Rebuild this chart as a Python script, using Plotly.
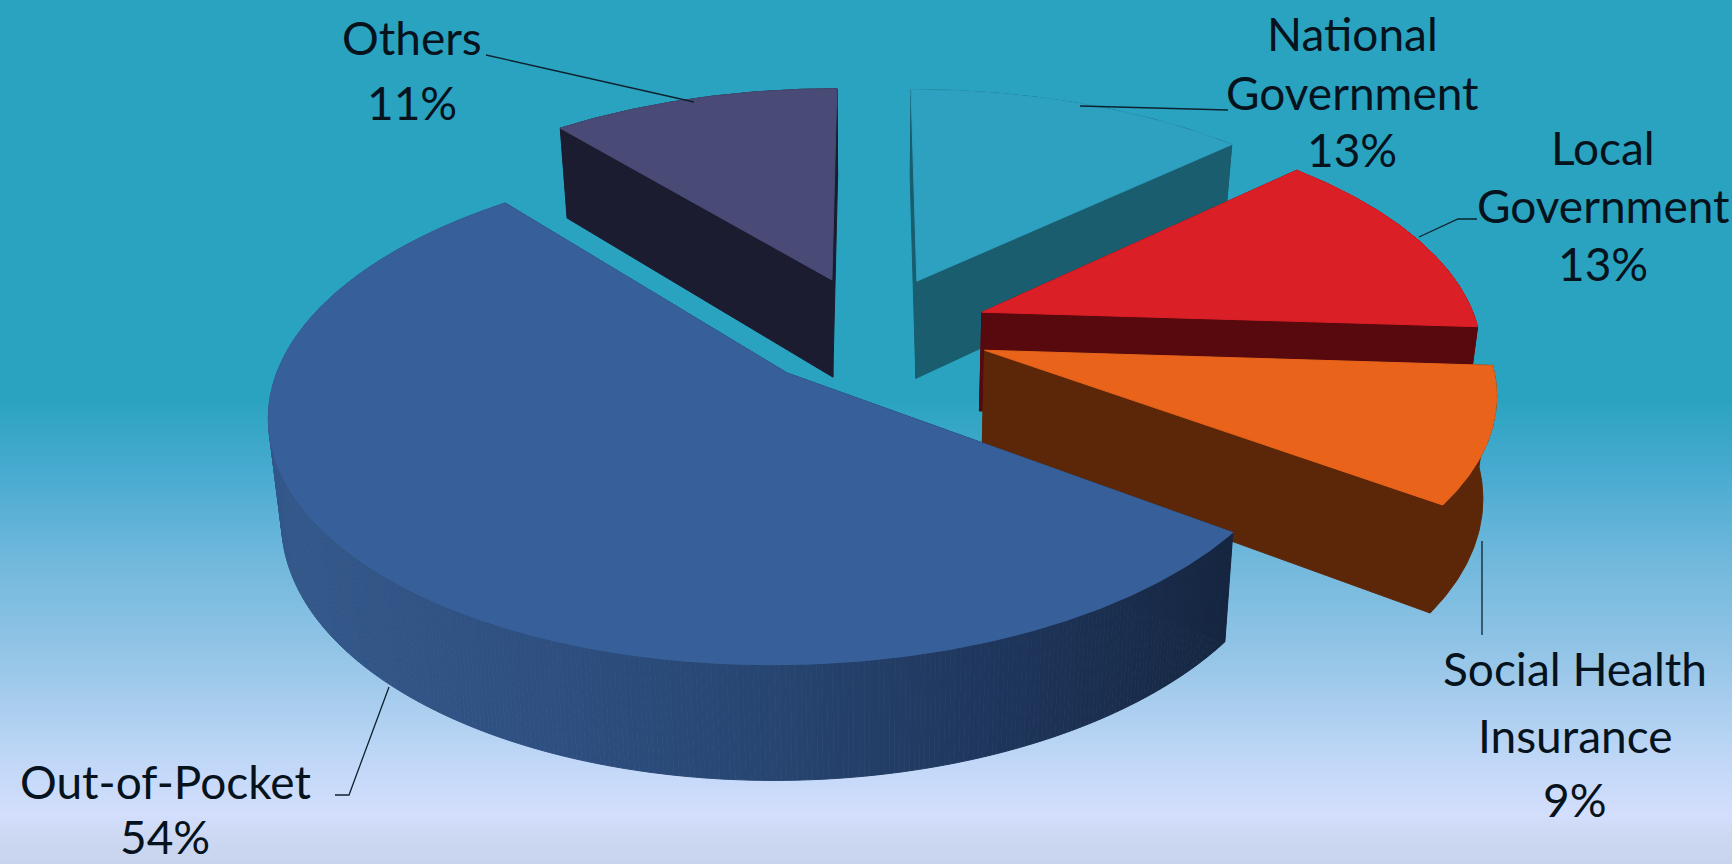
import numpy as np
import plotly.graph_objects as go

# Share of health spending by source, in percent
sources = ["Out-of-Pocket", "Others", "National Government", "Local Government", "Social Health Insurance"]
shares = [54, 11, 13, 13, 9]
label_lines = [["Out-of-Pocket"], ["Others"], ["National", "Government"], ["Local", "Government"], ["Social Health", "Insurance"]]

top_colors = ["#37609a", "#494a75", "#2ea0c0", "#da1f27", "#e9631b"]
wall_colors = ["#16263f", "#1b1c30", "#195d6f", "#58090e", "#5c2708"]

W, H = 1732, 864
FIRST_ANGLE = 36.0        # degrees, clockwise from the right, where the first slice starts
PULL = 0.24               # radial offset of every slice
CX, CY = 871.0, 331.0     # screen position of the pie centre
KX, KY = 497.0, 234.0     # horizontal and vertical scale of the disc
PERSP = 0.15              # perspective strength towards the viewer


def top_point(u, v):
    w = 1 - PERSP * v
    return CX + KX * u / w, CY + KY * v / w


def bottom_point(x, y):
    # Lower rim of the extruded disc for a point on the top face
    return CX + (x - CX) * 0.978, y + 90 + (y - 130) * 0.048


def slice_outline(start, end, pull):
    mid = np.radians((start + end) / 2)
    ox, oy = pull * np.cos(mid), pull * np.sin(mid)
    th = np.radians(np.linspace(start, end, max(int(end - start) * 2, 8)))
    rim = top_point(ox + np.cos(th), oy + np.sin(th))
    apex = top_point(ox, oy)
    return apex, rim


def polygon(fig, xs, ys, color):
    fig.add_trace(go.Scatter(x=list(xs), y=list(ys), mode="lines", fill="toself", fillcolor=color,
                             line=dict(color=color, width=1), hoverinfo="skip", showlegend=False))


def side_shade(x):
    # Lighting across the curved wall of the largest slice
    stops_x = [260, 560, 780, 1000, 1240]
    stops = np.array([[0x35, 0x59, 0x8b], [0x2e, 0x4f, 0x80], [0x27, 0x45, 0x70], [0x1f, 0x36, 0x5c], [0x16, 0x26, 0x40]])
    rgb = [int(np.interp(x, stops_x, stops[:, i])) for i in range(3)]
    return "rgb({},{},{})".format(*rgb)


# Vertical background wash
bg_pos = [0, 400, 470, 560, 650, 760, 815, 835, 864]
bg_rgb = [(42, 163, 192), (42, 163, 192), (72, 170, 208), (112, 184, 220), (146, 196, 230), (192, 215, 247),
          (211, 222, 252), (205, 216, 243), (200, 212, 236)]
rows = np.arange(0, H + 2, 2)
scale = [[p / H, "rgb({},{},{})".format(*c)] for p, c in zip(bg_pos, bg_rgb)]

fig = go.Figure()
fig.add_trace(go.Heatmap(x=[0, W], y=rows, z=[[r, r] for r in rows], colorscale=scale, zmin=0, zmax=H,
                         showscale=False, hoverinfo="skip"))

# Slice angle ranges, clockwise from the first-slice start
angles = FIRST_ANGLE + np.concatenate([[0], np.cumsum(shares)]) * 3.6
spans = list(zip(angles[:-1], angles[1:]))

# Painter's order: far slices first, the large front slice last
for i in [1, 2, 3, 4, 0]:
    start, end = spans[i]
    (ax, ay), (rx, ry) = slice_outline(start, end, PULL)
    bax, bay = bottom_point(ax, ay)
    brx, bry = bottom_point(rx, ry)
    # Cut walls from centre to both rim ends
    for j in (0, -1):
        polygon(fig, [ax, rx[j], brx[j], bax, ax], [ay, ry[j], bry[j], bay, ay], wall_colors[i])
    # Curved wall
    if i == 0:
        for k in range(len(rx) - 1):
            c = side_shade((rx[k] + rx[k + 1]) / 2)
            polygon(fig, [rx[k], rx[k + 1], brx[k + 1], brx[k]], [ry[k], ry[k + 1], bry[k + 1], bry[k]], c)
    else:
        polygon(fig, list(rx) + list(brx[::-1]), list(ry) + list(bry[::-1]), wall_colors[i])
    # Top face
    polygon(fig, [ax, *rx, ax], [ay, *ry, ay], top_colors[i])

# Leader lines from labels to slices
leaders = [
    ([389, 349, 335], [687, 795, 795]),
    ([486, 694], [55, 102]),
    ([1080, 1210, 1228], [106, 110, 110]),
    ([1419, 1458, 1477], [237, 219, 219]),
    ([1482, 1482], [541, 635]),
]
for lx, ly in leaders:
    fig.add_trace(go.Scatter(x=lx, y=ly, mode="lines", line=dict(color="#0d2230", width=1.3),
                             hoverinfo="skip", showlegend=False))

# Label block: centre x and the y of each line
label_x = [165, 412, 1352, 1603, 1575]
label_y = [[781, 836], [37, 102], [33, 92, 149], [147, 205, 263], [668, 735, 799]]
for name_lines, share, x, ys in zip(label_lines, shares, label_x, label_y):
    for text, y in zip(name_lines + [f"{share}%"], ys):
        fig.add_annotation(x=x, y=y, text=text, showarrow=False, xanchor="center", yanchor="middle",
                           font=dict(family="Lato, Carlito, sans-serif", size=46, color="#06121c"))

fig.update_layout(width=W, height=H, margin=dict(l=0, r=0, t=0, b=0), showlegend=False,
                  paper_bgcolor="#2aa3c0", plot_bgcolor="#2aa3c0",
                  xaxis=dict(range=[0, W], visible=False, fixedrange=True),
                  yaxis=dict(range=[H, 0], visible=False, fixedrange=True))
fig.write_html("out.html")
